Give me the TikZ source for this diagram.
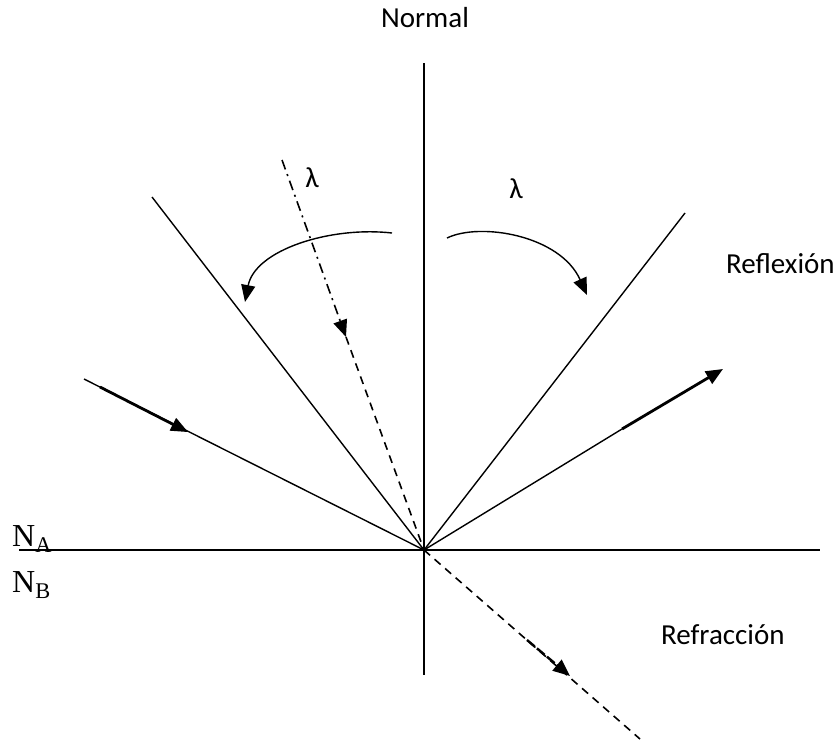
\documentclass[tikz,border=0pt]{standalone}
\usepackage{fontspec}
\setmainfont{Carlito}
\newfontfamily\timesfont{Liberation Serif}
\usetikzlibrary{arrows.meta,calc}
\tikzset{
  ray/.style={line width=1.4pt},
  thickray/.style={line width=2.8pt},
  tip/.style={-{Triangle[length=17pt,width=14pt]}},
  dashray/.style={line width=1.6pt, dash pattern=on 8pt off 6pt},
  dashdotray/.style={line width=1.6pt, dash pattern=on 10pt off 5pt on 2pt off 5pt},
  lbl/.style={font=\fontsize{29}{32}\selectfont, inner sep=0pt},
  nlbl/.style={font=\timesfont\fontsize{32}{35}\selectfont, inner sep=0pt, anchor=base west}
}
\begin{document}
\begin{tikzpicture}[x=1pt,y=-1pt]
\useasboundingbox (0,0) rectangle (837,742);
% coordinates
\coordinate (C) at (424,550);
\coordinate (Ntop) at (424,63);
\coordinate (Nbot) at (424,675);
\coordinate (Hl) at (19,550);
\coordinate (Hr) at (820,550);
\coordinate (UL) at (152,197);
\coordinate (UR) at (685,213);
\coordinate (Iin) at (84,379);
\coordinate (Ith) at (100,387);
\coordinate (Itip) at (188,432);
\coordinate (Rth) at (622,429);
\coordinate (Rtip) at (723,369);
\coordinate (Dtop) at (282,160);
\coordinate (Dtip) at (346,337);
\coordinate (Fth) at (527,640);
\coordinate (Ftip) at (570,676);
\coordinate (Fend) at (640,739);
% axes
\draw[ray] (Ntop) -- (Nbot);
\draw[ray] (Hl) -- (Hr);
% solid lines
\draw[ray] (C) -- (UL);
\draw[ray] (C) -- (UR);
% incident ray
\draw[ray] (Iin) -- (C);
\draw[thickray] (Ith) -- ($(Ith)!0.85!(Itip)$);
\draw[ray,tip] (Ith) -- (Itip);
% reflected ray
\draw[ray] (C) -- (Rth);
\draw[thickray,tip] (Rth) -- (Rtip);
% dash-dot ray
\draw[dashdotray,tip] (Dtop) -- (Dtip);
\draw[dashray] (Dtip) -- (C);
% refracted ray
\draw[dashray] (C) -- (Fend);
\draw[line width=2.4pt, dash pattern=on 10pt off 3pt,tip] (Fth) -- (Ftip);
% arcs
\draw[ray,tip] (392,233) .. controls (330,226) and (255,250) .. (245,302);
\draw[ray,tip] (447,238) .. controls (480,222) and (560,235) .. (587,295);
% labels
\node[lbl] (normal) at (425,18) {Normal};
\node[lbl] (lamL) at (312,178) {λ};
\node[lbl] (lamR) at (516,189) {λ};
\node[lbl, anchor=west] (refl) at (726,264) {Reflexión};
\node[lbl, anchor=west] (refr) at (661,635) {Refracción};
\node[nlbl] (na) at (12,546) {N\textsubscript{A}};
\node[nlbl] (nb) at (12,592) {N\textsubscript{B}};
\end{tikzpicture}
\end{document}
